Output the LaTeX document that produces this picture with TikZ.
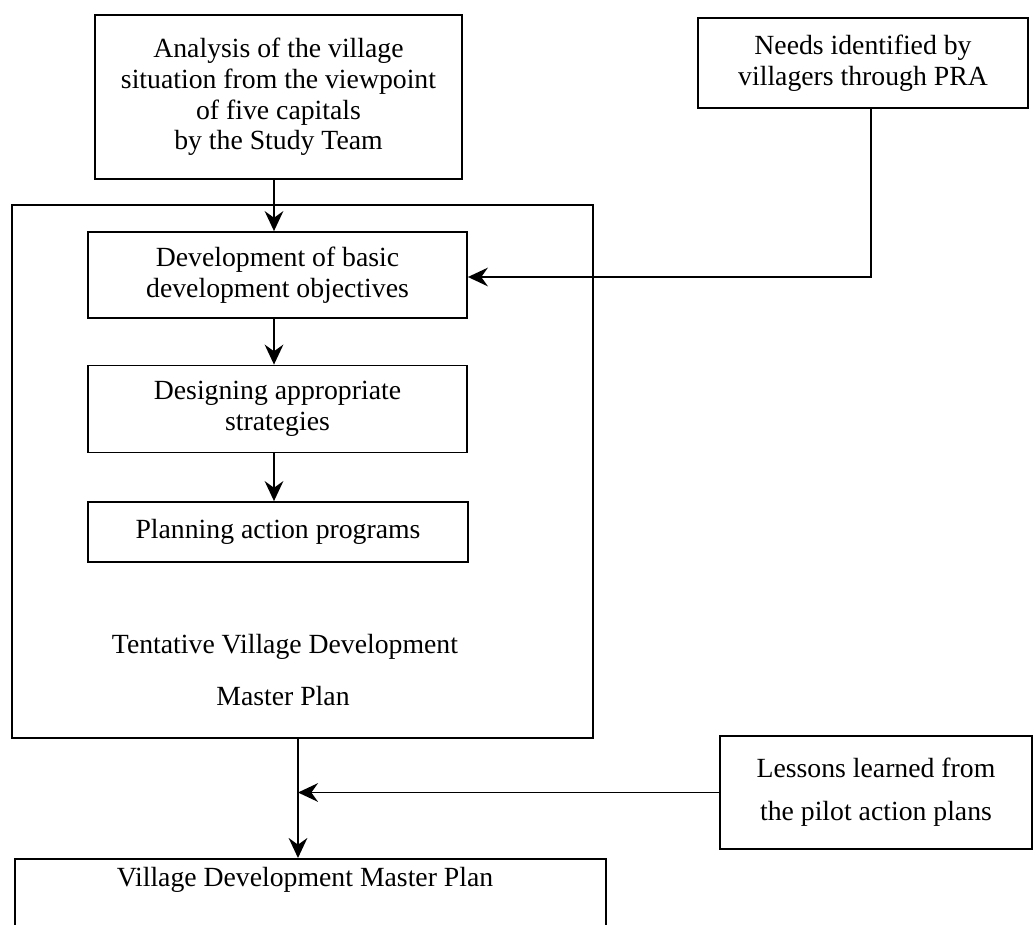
\documentclass[tikz,border=0pt]{standalone}
\usepackage{fontspec}
\setmainfont{Liberation Serif}
\usetikzlibrary{arrows.meta}
\begin{document}
\begin{tikzpicture}[x=0.75pt,y=-0.75pt,
  box/.style={draw, line width=1.35pt, align=center, inner sep=0pt,
    font=\fontsize{20.8}{23}\selectfont},
  txt/.style={inner sep=0pt, font=\fontsize{20.8}{23}\selectfont},
  arr/.style={line width=1.35pt, -{Stealth[length=15pt,width=14pt,inset=5pt]}}]
\useasboundingbox (0,0) rectangle (1036,925);
\clip (0,0) rectangle (1036,925);
\fill[white] (0,0) rectangle (1036,925);

\node[box, minimum width=275.25pt, minimum height=123pt] (analysis) at (278.5,97)
  {Analysis of the village\\situation from the viewpoint\\of five capitals\\by the Study Team};
\node[box, minimum width=247.5pt, minimum height=67.5pt] (needs) at (863,63)
  {Needs identified by\\villagers through PRA};
\node[box, minimum width=435.75pt, minimum height=399.75pt] (outer) at (302.5,471.5) {};
\node[box, minimum width=284.25pt, minimum height=64.5pt] (dev) at (277.5,275)
  {Development of basic\\development objectives};
\node[box, minimum width=284.25pt, minimum height=65.25pt] (design) at (277.5,409)
  {Designing appropriate\\strategies};
\node[box, minimum width=285pt, minimum height=45pt] (plan) at (278,532)
  {Planning action programs};
\node[txt] (tv1) at (285,647) {Tentative Village Development};
\node[txt] (tv2) at (283,696) {Master Plan};
\node[box, minimum width=234pt, minimum height=84.75pt] (lessons) at (876,792.5)
  {Lessons learned from\\[9pt]the pilot action plans};
\node[box, minimum width=443.25pt, minimum height=90pt, anchor=north] (vdmp) at (310.5,858) {};
\node[txt] (vdmptext) at (305,880) {Village Development Master Plan};

\coordinate (ax) at (274,0);
\coordinate (nturn) at (871,277);
\coordinate (j) at (298,792);

\draw[arr] (analysis.south -| ax) -- (dev.north -| ax);
\draw[arr] (dev.south -| ax) -- (design.north -| ax);
\draw[arr] (design.south -| ax) -- (plan.north -| ax);
\draw[arr] (needs.south -| nturn) |- (dev.east |- nturn);
\draw[arr] (outer.south -| j) -- (vdmp.north -| j);
\draw[arr] (lessons.west) -- (lessons.west -| j);
\end{tikzpicture}
\end{document}
